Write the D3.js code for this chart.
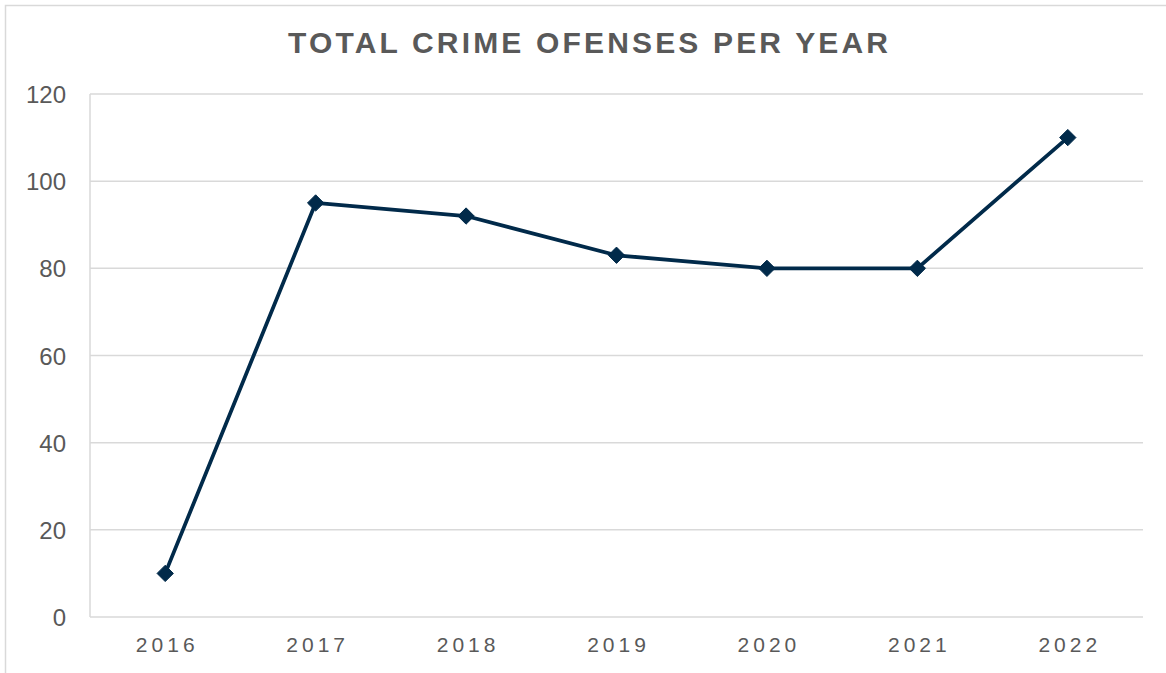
<!DOCTYPE html>
<html>
<head>
<meta charset="utf-8">
<script src="https://cdn.jsdelivr.net/npm/d3@7"></script>
<style>
  html, body { margin: 0; padding: 0; background: #fff; }
  svg { display: block; }
</style>
</head>
<body>
<svg id="chart" width="1166" height="673"></svg>
<script>
// Yearly totals of recorded crime offenses
const years = ["2016", "2017", "2018", "2019", "2020", "2021", "2022"];
const offenses = [10, 95, 92, 83, 80, 80, 110];
const yTicks = [0, 20, 40, 60, 80, 100, 120];
const titleText = "TOTAL CRIME OFENSES PER YEAR";

const svg = d3.select("#chart");
const W = 1166, H = 673;
const plot = { left: 90, right: 1143, top: 94, bottom: 617 };
const lineColor = "#012a4a";
const gridColor = "#d9d9d9";
const textColor = "#595959";

// chart frame (runs off the right and bottom edges)
svg.append("rect")
  .attr("x", 5.5).attr("y", 5.5)
  .attr("width", W + 20).attr("height", H + 20)
  .attr("fill", "#fff")
  .attr("stroke", gridColor).attr("stroke-width", 1.5);

const x = d3.scaleBand().domain(years).range([plot.left, plot.right]).padding(0);
const y = d3.scaleLinear().domain([0, 120]).range([plot.bottom, plot.top]);

// horizontal gridlines
svg.append("g")
  .selectAll("line")
  .data(yTicks)
  .join("line")
  .attr("x1", plot.left).attr("x2", plot.right)
  .attr("y1", d => y(d)).attr("y2", d => y(d))
  .attr("stroke", gridColor).attr("stroke-width", 1.5);

// left axis line
svg.append("line")
  .attr("x1", plot.left).attr("x2", plot.left)
  .attr("y1", plot.top).attr("y2", plot.bottom)
  .attr("stroke", gridColor).attr("stroke-width", 1.5);

// y-axis labels
svg.append("g")
  .selectAll("text")
  .data(yTicks)
  .join("text")
  .attr("x", 66)
  .attr("y", d => y(d) + 9)
  .attr("text-anchor", "end")
  .attr("font-family", "Liberation Sans, Arial, sans-serif")
  .attr("font-size", 24)
  .attr("fill", textColor)
  .text(d => d);

// x-axis labels
svg.append("g")
  .selectAll("text")
  .data(years)
  .join("text")
  .attr("x", d => x(d) + x.bandwidth() / 2 + 2)
  .attr("y", 652)
  .attr("text-anchor", "middle")
  .attr("font-family", "Liberation Sans, Arial, sans-serif")
  .attr("font-size", 21)
  .attr("letter-spacing", 4)
  .attr("fill", textColor)
  .text(d => d);

// title
svg.append("text")
  .attr("x", 588)
  .attr("y", 53)
  .attr("text-anchor", "middle")
  .attr("font-family", "Liberation Sans, Arial, sans-serif")
  .attr("font-weight", "bold")
  .attr("font-size", 30)
  .attr("textLength", 600)
  .attr("lengthAdjust", "spacing")
  .attr("fill", textColor)
  .text(titleText);

const pts = years.map((yr, i) => ({ yr, v: offenses[i] }));

// series line
svg.append("path")
  .datum(pts)
  .attr("fill", "none")
  .attr("stroke", lineColor)
  .attr("stroke-width", 3.75)
  .attr("stroke-linejoin", "round")
  .attr("d", d3.line()
    .x(d => x(d.yr) + x.bandwidth() / 2)
    .y(d => y(d.v)));

// diamond markers
svg.append("g")
  .selectAll("path")
  .data(pts)
  .join("path")
  .attr("transform", d => `translate(${x(d.yr) + x.bandwidth() / 2},${y(d.v)})`)
  .attr("d", d3.symbol(d3.symbolDiamond2, 170))
  .attr("fill", lineColor)
  .attr("stroke", lineColor)
  .attr("stroke-width", 1)
  .attr("stroke-linejoin", "round");
</script>
</body>
</html>
